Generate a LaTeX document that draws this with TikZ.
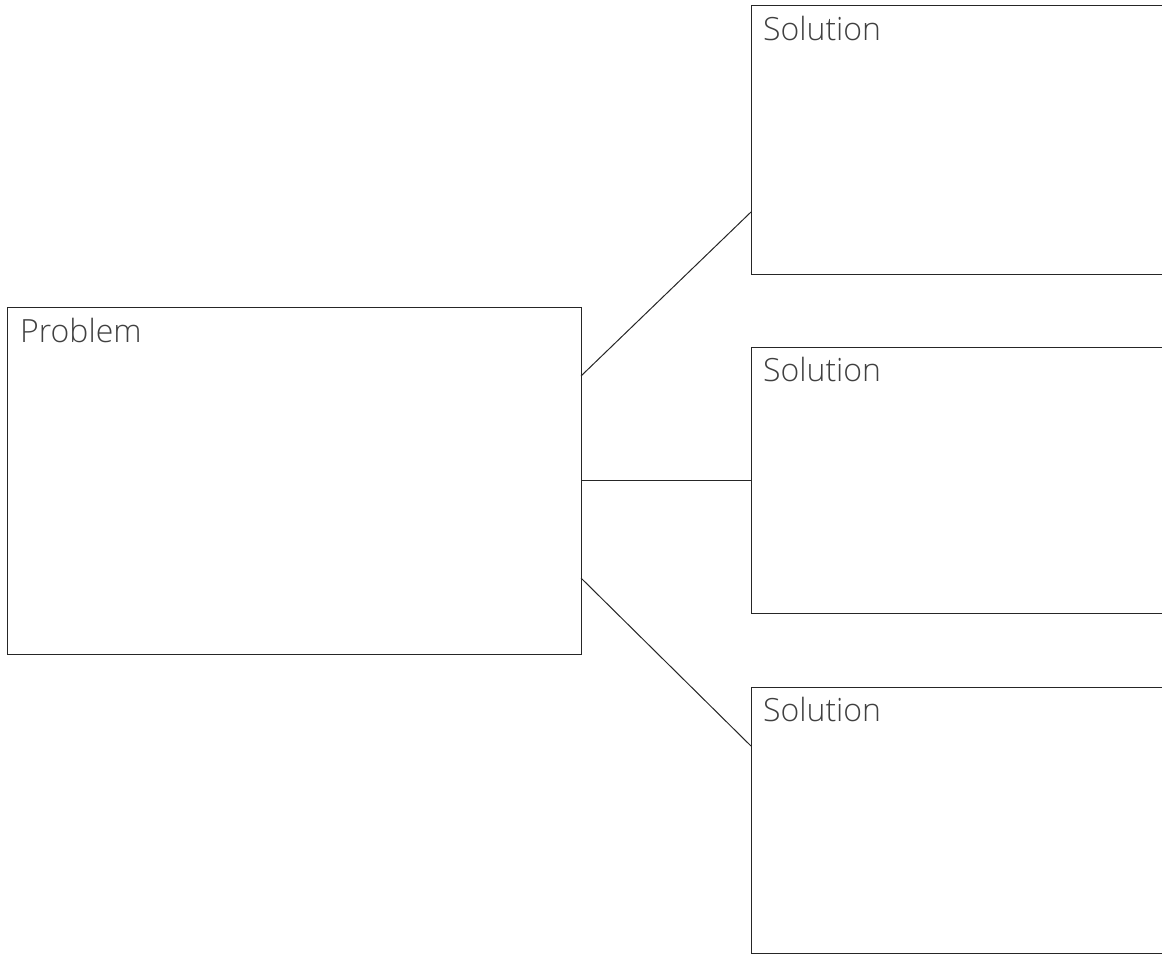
\documentclass[tikz,border=0pt]{standalone}
\usepackage{fontspec}
\setmainfont{Open Sans Light}
\begin{document}
\begin{tikzpicture}[x=1pt,y=-1pt,
  box/.style={draw=black!85,line width=1.1pt,rectangle,inner sep=0pt,anchor=north west},
  lbl/.style={anchor=base west,inner sep=0pt,text=black!75,font=\fontsize{32}{35}\selectfont},
  conn/.style={draw=black!85,line width=1pt}]
\useasboundingbox (0,0) rectangle (1162,954);
\clip (0,0) rectangle (1162,954);
\node[box,minimum width=574pt,minimum height=347pt] (prob) at (7,307) {};
\node[box,minimum width=430pt,minimum height=269pt] (s1) at (751,5) {};
\node[box,minimum width=430pt,minimum height=266pt] (s2) at (751,347) {};
\node[box,minimum width=430pt,minimum height=266pt] (s3) at (751,687) {};
\node[lbl] (tp) at (20,342) {Problem};
\node[lbl] (t1) at (763,40) {Solution};
\node[lbl] (t2) at (763,381) {Solution};
\node[lbl] (t3) at (763,721) {Solution};
\coordinate (a1) at (581,376);
\coordinate (a2) at (581,480);
\coordinate (a3) at (581,578);
\coordinate (b1) at (751,212);
\coordinate (b2) at (751,480);
\coordinate (b3) at (751,746);
\draw[conn] (a1) -- (b1);
\draw[conn] (a2) -- (b2);
\draw[conn] (a3) -- (b3);
\end{tikzpicture}
\end{document}
